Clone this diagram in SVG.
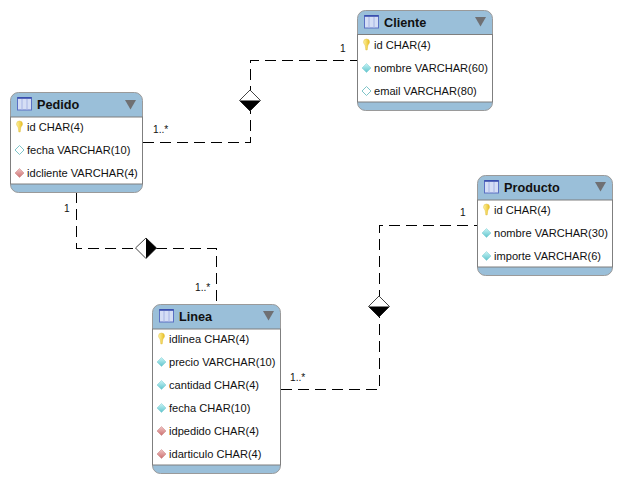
<svg xmlns="http://www.w3.org/2000/svg" width="622" height="483" viewBox="0 0 622 483">
<defs>
<linearGradient id="gn" x1="0" y1="0" x2="0" y2="1"><stop offset="0" stop-color="#c8f4f6"/><stop offset="1" stop-color="#5fc4cc"/></linearGradient>
<linearGradient id="gf" x1="0" y1="0" x2="0" y2="1"><stop offset="0" stop-color="#f0c4c4"/><stop offset="1" stop-color="#cc6f6f"/></linearGradient>
<linearGradient id="gk" x1="0" y1="0" x2="1" y2="0"><stop offset="0" stop-color="#fff3a0"/><stop offset="1" stop-color="#e8bd20"/></linearGradient>
<g id="icon"><rect x="0.500" y="0.500" width="14" height="12.500" class="tbl"/><path d="M0.500 1H14.500" class="tt"/><path d="M5 2V13M10 2V13" class="tl"/></g>
<path id="tr" d="M0 0H11L5.500 9.500Z" class="tri"/>
<path id="key" d="M-3-3A3 3 0 0 1 3-3C3-1.200 1.400-.6 1.200 1L.7 5H-.7L-1.200 1C-1.400-.6-3-1.200-3-3Z" class="key"/>
<path id="d" d="M0-4.500L4.500 0L0 4.500L-4.500 0Z"/>
</defs>
<style>
text{font-family:"Liberation Sans",Arial,sans-serif;font-size:11.1px;fill:#111}
.title{font-size:12.7px;font-weight:bold;fill:#111}
.card{font-size:10.2px}
.shell{fill:#9abfd9;stroke:#9a9a9a;stroke-width:1}
.body{fill:#fff;stroke:#7f7f7f;stroke-width:1}
.tbl{fill:#d5def5;stroke:#5a70c4;stroke-width:1}
.tt{stroke:#2f45a8;stroke-width:1.500;fill:none}
.tl{stroke:#a6b4e4;stroke-width:1;fill:none}
.tri{fill:#6f7073}
.key{fill:url(#gk);stroke:#d9b52e;stroke-width:.4}
.none{fill:#fff;stroke:#7fc4c8;stroke-width:1}
.nn{fill:url(#gn);stroke:#7ccdd3;stroke-width:.5}
.fk{fill:url(#gf);stroke:#c98080;stroke-width:.5}
.line{fill:none;stroke:#000;stroke-width:1;stroke-dasharray:11 6;shape-rendering:crispEdges}
.dia{fill:#fff;stroke:#444;stroke-width:1}
.dk{fill:#000}
</style>
<g id="connectors">
<path class="line" d="M143 142.500H250.500V60.500H357"/>
<path class="line" d="M76.500 192V248.500H216.500V304"/>
<path class="line" d="M281 389.500H379.500V225.500H477"/>
<path class="dia" d="M250 90L260.500 100.500L250 111L239.500 100.500Z"/>
<path class="dk" d="M239.500 100.500H260.500L250 111Z"/>
<path class="dia" d="M146 238L156.500 248L146 258.500L135.500 248Z"/>
<path class="dk" d="M146 238L156.500 248L146 258.500Z"/>
<path class="dia" d="M379 296L389.500 306.500L379 317L368.500 306.500Z"/>
<path class="dk" d="M368.500 306.500H389.500L379 317Z"/>
<text class="card" x="340" y="52">1</text>
<text class="card" x="153" y="133">1..*</text>
<text class="card" x="64" y="212">1</text>
<text class="card" x="195" y="291">1..*</text>
<text class="card" x="460" y="216">1</text>
<text class="card" x="290" y="381">1..*</text>
</g>
<g id="pedido">
<rect class="shell" x="10.500" y="92.500" width="132" height="100" rx="8"/>
<rect class="body" x="10.500" y="117" width="132" height="67"/>
<use href="#icon" x="17" y="97"/>
<text class="title" x="37" y="108.500">Pedido</text>
<use href="#tr" x="125" y="100"/>
<use href="#key" x="19.500" y="127"/><text x="27" y="131">id CHAR(4)</text>
<use href="#d" class="none" x="19.500" y="150"/><text x="27" y="154">fecha VARCHAR(10)</text>
<use href="#d" class="fk" x="19.500" y="173"/><text x="27" y="177">idcliente VARCHAR(4)</text>
</g>
<g id="cliente">
<rect class="shell" x="357.500" y="10.500" width="135" height="100" rx="8"/>
<rect class="body" x="357.500" y="34.500" width="135" height="67.500"/>
<use href="#icon" x="364" y="15"/>
<text class="title" x="384" y="26.500">Cliente</text>
<use href="#tr" x="475" y="17"/>
<use href="#key" x="366.500" y="45"/><text x="374" y="49">id CHAR(4)</text>
<use href="#d" class="nn" x="366.500" y="68"/><text x="374" y="72">nombre VARCHAR(60)</text>
<use href="#d" class="none" x="366.500" y="91"/><text x="374" y="95">email VARCHAR(80)</text>
</g>
<g id="producto">
<rect class="shell" x="477.500" y="175.500" width="135" height="100" rx="8"/>
<rect class="body" x="477.500" y="200" width="135" height="67"/>
<use href="#icon" x="484" y="180"/>
<text class="title" x="504" y="191.500">Producto</text>
<use href="#tr" x="595" y="182"/>
<use href="#key" x="486.500" y="210"/><text x="494" y="214">id CHAR(4)</text>
<use href="#d" class="nn" x="486.500" y="233"/><text x="494" y="237">nombre VARCHAR(30)</text>
<use href="#d" class="nn" x="486.500" y="256"/><text x="494" y="260">importe VARCHAR(6)</text>
</g>
<g id="linea">
<rect class="shell" x="152.500" y="304.500" width="128" height="169" rx="8"/>
<rect class="body" x="152.500" y="329" width="128" height="136"/>
<use href="#icon" x="159" y="309"/>
<text class="title" x="179" y="320.500">Linea</text>
<use href="#tr" x="263" y="311"/>
<use href="#key" x="161.500" y="339"/><text x="169" y="343">idlinea CHAR(4)</text>
<use href="#d" class="nn" x="161.500" y="362"/><text x="169" y="366">precio VARCHAR(10)</text>
<use href="#d" class="nn" x="161.500" y="385"/><text x="169" y="389">cantidad CHAR(4)</text>
<use href="#d" class="nn" x="161.500" y="408"/><text x="169" y="412">fecha CHAR(10)</text>
<use href="#d" class="fk" x="161.500" y="431"/><text x="169" y="435">idpedido CHAR(4)</text>
<use href="#d" class="fk" x="161.500" y="454"/><text x="169" y="458">idarticulo CHAR(4)</text>
</g>
</svg>
